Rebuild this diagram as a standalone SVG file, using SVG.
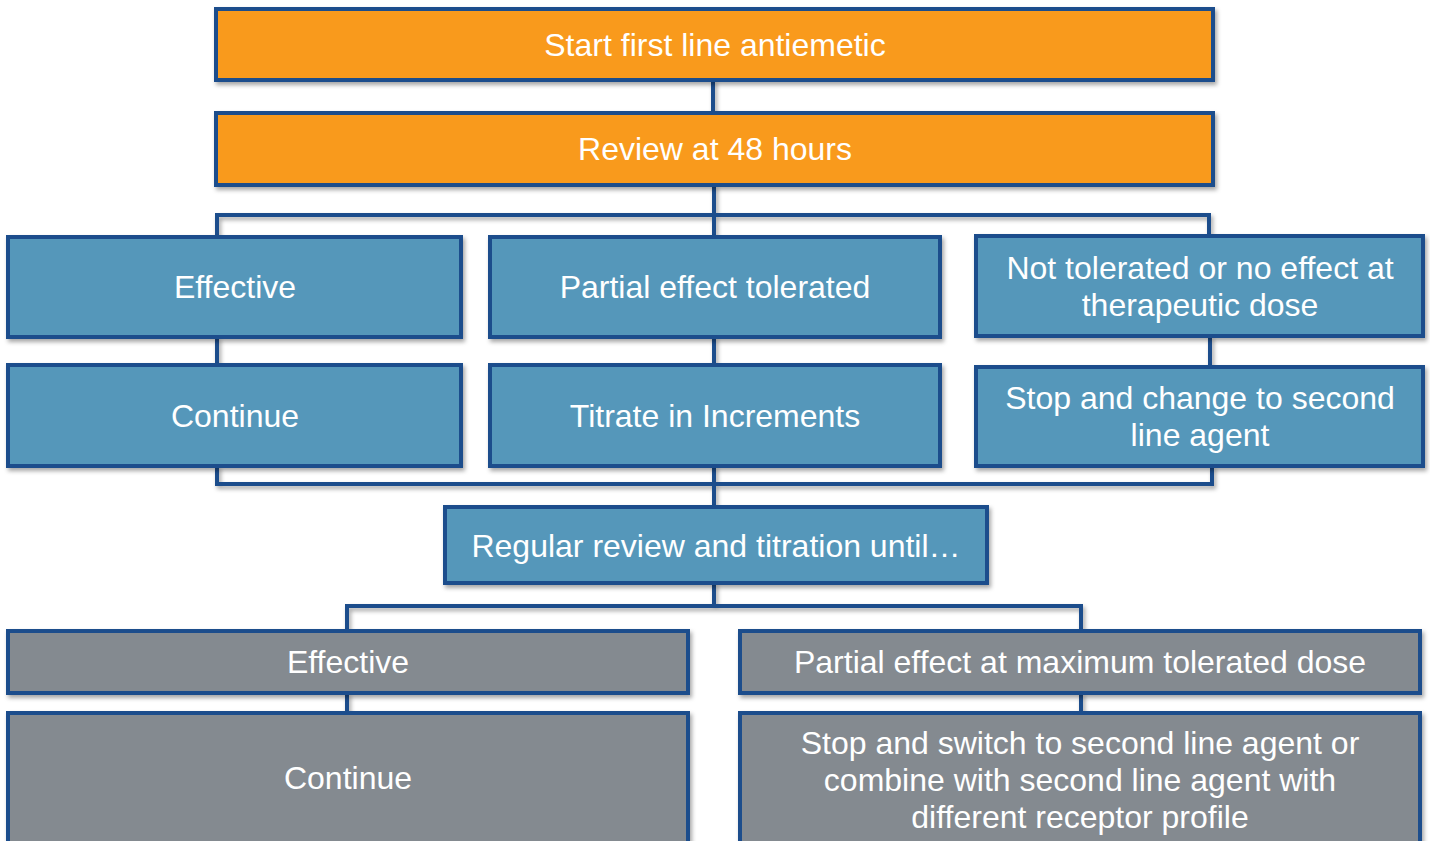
<svg xmlns="http://www.w3.org/2000/svg" width="1430" height="841" viewBox="0 0 1430 841">
<defs>
<filter id="sh" x="-5%" y="-20%" width="110%" height="150%">
<feDropShadow dx="2" dy="3" stdDeviation="2" flood-color="#000" flood-opacity="0.35"/>
</filter>
<style>
.box{stroke:#1F4E8C;stroke-width:4;filter:url(#sh)}
.o{fill:#F99A1C}
.b{fill:#5497BA}
.g{fill:#848A90}
.t{font-family:"Liberation Sans",Arial,sans-serif;font-size:32px;fill:#fff;text-anchor:middle;dominant-baseline:central}
.c{fill:none;stroke:#1F4E8C;stroke-width:4}
</style>
</defs>
<rect width="1430" height="841" fill="#fff"/>
<g id="connectors" filter="url(#sh)">
<path class="c" d="M713 80V113"/>
<path class="c" d="M714 185V215M217 237V215H1209V236M714 215V237"/>
<path class="c" d="M217 337V365M714 337V365M1210 336V367"/>
<path class="c" d="M217 466V484H1212V466M714 466V507"/>
<path class="c" d="M714 583V606M347 631V606H1081V631"/>
<path class="c" d="M347 693V713M1081 693V713"/>
</g>
<g id="n1"><rect class="box o" x="216" y="9" width="997" height="71"/><text class="t" x="715" y="45">Start first line antiemetic</text></g>
<g id="n2"><rect class="box o" x="216" y="113" width="997" height="72"/><text class="t" x="715" y="149">Review at 48 hours</text></g>
<g id="n3"><rect class="box b" x="8" y="237" width="453" height="100"/><text class="t" x="235" y="287">Effective</text></g>
<g id="n4"><rect class="box b" x="490" y="237" width="450" height="100"/><text class="t" x="715" y="287">Partial effect tolerated</text></g>
<g id="n5"><rect class="box b" x="976" y="236" width="447" height="100"/><text class="t" x="1200" y="268">Not tolerated or no effect at</text><text class="t" x="1200" y="305">therapeutic dose</text></g>
<g id="n6"><rect class="box b" x="8" y="365" width="453" height="101"/><text class="t" x="235" y="416">Continue</text></g>
<g id="n7"><rect class="box b" x="490" y="365" width="450" height="101"/><text class="t" x="715" y="416">Titrate in Increments</text></g>
<g id="n8"><rect class="box b" x="976" y="367" width="447" height="99"/><text class="t" x="1200" y="398">Stop and change to second</text><text class="t" x="1200" y="435">line agent</text></g>
<g id="n9"><rect class="box b" x="445" y="507" width="542" height="76"/><text class="t" x="716" y="546">Regular review and titration until…</text></g>
<g id="n10"><rect class="box g" x="8" y="631" width="680" height="62"/><text class="t" x="348" y="662">Effective</text></g>
<g id="n11"><rect class="box g" x="740" y="631" width="680" height="62"/><text class="t" x="1080" y="662">Partial effect at maximum tolerated dose</text></g>
<g id="n12"><rect class="box g" x="8" y="713" width="680" height="140"/><text class="t" x="348" y="778">Continue</text></g>
<g id="n13"><rect class="box g" x="740" y="713" width="680" height="140"/><text class="t" x="1080" y="743">Stop and switch to second line agent or</text><text class="t" x="1080" y="780">combine with second line agent with</text><text class="t" x="1080" y="817">different receptor profile</text></g>
</svg>
